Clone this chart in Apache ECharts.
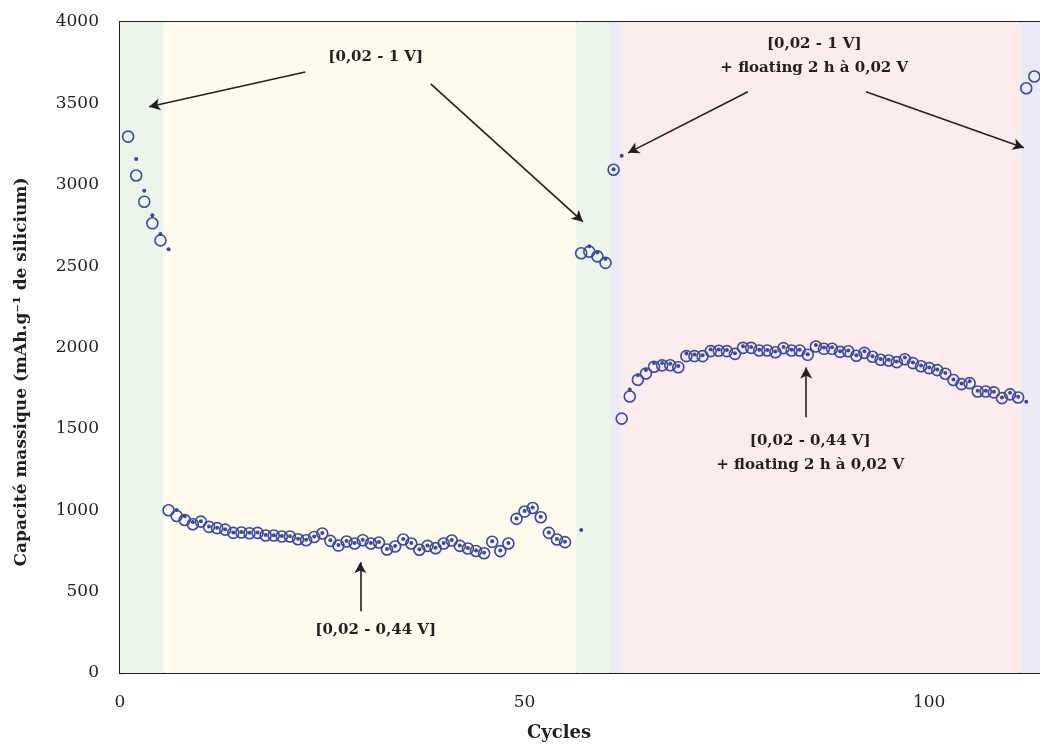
<!DOCTYPE html>
<html><head><meta charset="utf-8">
<script src="https://cdn.jsdelivr.net/npm/echarts@6/dist/echarts.min.js"></script>
<style>html,body{margin:0;padding:0;background:#fff}#c{width:1040px;height:744px}</style>
</head><body><div id="c"></div>
<script>
// Open circles
const circleCycles = [1,2,3,4,5,6,7,8,9,10,11,12,13,14,15,16,17,18,19,20,21,22,23,24,25,26,27,28,29,30,31,32,33,34,35,36,37,38,39,40,41,42,43,44,45,46,47,48,49,50,51,52,53,54,55,
  57,58,59,60,61,62,63,64,65,66,67,68,69,70,71,72,73,74,75,76,77,78,79,80,81,82,83,84,85,86,87,88,89,90,91,92,93,94,95,96,97,98,99,100,101,102,103,104,105,106,107,108,109,110,111,112,113];
const circleValues = [3296,3057,2896,2763,2658,1000,965,940,914,930,898,890,881,861,863,859,861,845,845,839,839,822,816,836,857,812,783,808,796,816,796,802,759,777,820,796,757,781,767,796,814,781,765,750,736,806,749,796,947,992,1014,957,861,820,804,
  2579,2589,2560,2520,3092,1563,1699,1802,1840,1882,1890,1891,1879,1947,1947,1947,1978,1980,1978,1961,1998,1998,1982,1982,1971,1996,1982,1982,1955,2006,1992,1992,1973,1977,1949,1967,1943,1925,1920,1910,1928,1904,1885,1873,1861,1839,1800,1775,1781,1730,1730,1724,1689,1712,1693,3593,3665];
// Small dots
const dotCycles = [2,3,4,5,6,7,8,9,10,11,12,13,14,15,16,17,18,19,20,21,22,23,24,25,26,27,28,29,30,31,32,33,34,35,36,37,38,39,40,41,42,43,44,45,46,47,48,49,50,51,52,53,54,55,
  57,58,59,60,61,62,63,64,65,66,67,68,69,70,71,72,73,74,75,76,77,78,79,80,81,82,83,84,85,86,87,88,89,90,91,92,93,94,95,96,97,98,99,100,101,102,103,104,105,106,107,108,109,110,111,112];
const dotValues = [3158,2963,2812,2698,2603,1002,963,928,
  932,900,893,883,864,866,862,863,848,847,842,841,825,819,839,860,815,786,811,799,819,799,805,762,780,823,799,760,784,770,799,817,784,768,753,739,809,752,799,950,995,1017,960,864,823,807,
  879,2622,2583,2544,3095,3178,1742,1830,1861,1905,1904,1900,1887,1963,1957,1952,1988,1988,1985,1965,2008,2003,1986,1985,1975,2003,1986,1986,1958,2016,2000,2002,1977,1981,1953,1977,1947,1929,1924,1914,1938,1908,1889,1877,1865,1843,1804,1779,1792,1734,1734,1728,1693,1722,1697,1667];
const xTicks = [0, 50, 100];
const yTicks = [0, 500, 1000, 1500, 2000, 2500, 3000, 3500, 4000];
// Protocol regions (cycle boundaries)
const regionStarts = [0, 5.4, 56.4, 60.6, 61.9, 111.3];
const regionEnds   = [5.4, 56.4, 60.6, 61.9, 111.3, 113.7];
const regionColors = ['#ebf5ea', '#fffbec', '#ebf5ea', '#ebeaf6', '#fdecec', '#ebeaf6'];

const FONT = 'DejaVu Serif';
const BLUE = '#3747ad';
const INK = '#231f20';

const circles = circleCycles.map((c, i) => [c, circleValues[i]]);
const dots = dotCycles.map((c, i) => [c, dotValues[i]]);

const areas = regionStarts.map((s, i) => [
  { xAxis: s, itemStyle: { color: regionColors[i] } },
  { xAxis: regionEnds[i] }
]);

const labelStyle = { fontFamily: FONT, fontWeight: 'bold', fontSize: 15, color: INK, lineHeight: 24 };

const chart = echarts.init(document.getElementById('c'), null, { renderer: 'canvas' });
chart.setOption({
  animation: false,
  backgroundColor: '#fff',
  grid: { left: 120, right: 0, top: 22, bottom: 71, containLabel: false },
  xAxis: [{
    type: 'value', min: 0, max: 113.7, interval: 50,
    axisLine: { show: true, onZero: false, lineStyle: { color: INK, width: 2 } },
    axisTick: { show: true, inside: true, length: 5, lineStyle: { color: INK, width: 1.2 } },
    minorTick: { show: true, splitNumber: 5, length: 5, lineStyle: { color: INK, width: 1.2 } },
    axisLabel: { fontFamily: FONT, fontSize: 17, color: INK, margin: 21,
      formatter: v => xTicks.includes(v) ? String(v) : '' , showMaxLabel: false},
    splitLine: { show: false }
  }, {
    type: 'value', min: 0, max: 113.7, position: 'top',
    axisLine: { show: true, onZero: false, lineStyle: { color: INK, width: 2 } },
    axisTick: { show: false }, axisLabel: { show: false }, splitLine: { show: false }
  }],
  yAxis: {
    type: 'value', min: 0, max: 4000, interval: 500,
    axisLine: { show: true, onZero: false, lineStyle: { color: INK, width: 2 } },
    axisTick: { show: true, inside: true, length: 5, lineStyle: { color: INK, width: 1.2 } },
    minorTick: { show: true, splitNumber: 5, length: 5, lineStyle: { color: INK, width: 1.2 } },
    axisLabel: { fontFamily: FONT, fontSize: 17, color: INK, margin: 21,
      formatter: v => yTicks.includes(v) ? String(v) : '' },
    splitLine: { show: false }
  },
  graphic: [
    { type: 'text', x: 559, y: 733, style: { text: 'Cycles', font: 'bold 18px "DejaVu Serif"', fill: INK, align: 'center', verticalAlign: 'middle' } },
    { type: 'text', x: 22, y: 372, rotation: Math.PI / 2,
      style: { text: 'Capacité massique (mAh.g⁻¹ de silicium)', font: 'bold 17px "DejaVu Serif"', fill: INK, align: 'center', verticalAlign: 'middle' } }
  ],
  series: [
    {
      type: 'scatter', name: 'bands', data: [], silent: true,
      markArea: { silent: true, data: areas },
      markLine: {
        silent: true, symbol: ['none', 'arrow'], symbolSize: [9, 11],
        lineStyle: { color: INK, width: 1.6, type: 'solid' },
        label: { show: false },
        data: [
          [{ coord: [22.9, 3693] }, { coord: [3.6, 3479] }],
          [{ coord: [38.4, 3620] }, { coord: [57.2, 2773] }],
          [{ coord: [77.6, 3571] }, { coord: [62.8, 3196] }],
          [{ coord: [92.2, 3571] }, { coord: [111.7, 3227] }],
          [{ coord: [84.8, 1571] }, { coord: [84.8, 1877] }],
          [{ coord: [29.7, 380] }, { coord: [29.7, 681] }]
        ]
      },
      markPoint: {
        silent: true, symbol: 'circle', symbolSize: 1,
        itemStyle: { color: 'rgba(0,0,0,0)' },
        label: Object.assign({ show: true, position: 'inside', align: 'center', verticalAlign: 'middle' }, labelStyle),
        data: [
          { coord: [31.6, 3785], label: { formatter: '[0,02 - 1 V]' } },
          { coord: [85.8, 3791], label: { formatter: '[0,02 - 1 V]\n+ floating 2 h à 0,02 V' } },
          { coord: [85.3, 1353], label: { formatter: '[0,02 - 0,44 V]\n+ floating 2 h à 0,02 V' } },
          { coord: [31.6, 264], label: { formatter: '[0,02 - 0,44 V]' } }
        ]
      }
    },
    {
      type: 'scatter', name: 'circles', data: circles, symbol: 'circle', symbolSize: 11,
      itemStyle: { color: 'rgba(0,0,0,0)', borderColor: BLUE, borderWidth: 1.6, opacity: 1 },
      z: 3
    },
    {
      type: 'scatter', name: 'dots', data: dots, symbol: 'circle', symbolSize: 4,
      itemStyle: { color: BLUE, opacity: 1 },
      z: 4
    }
  ]
});
</script>
</body></html>
